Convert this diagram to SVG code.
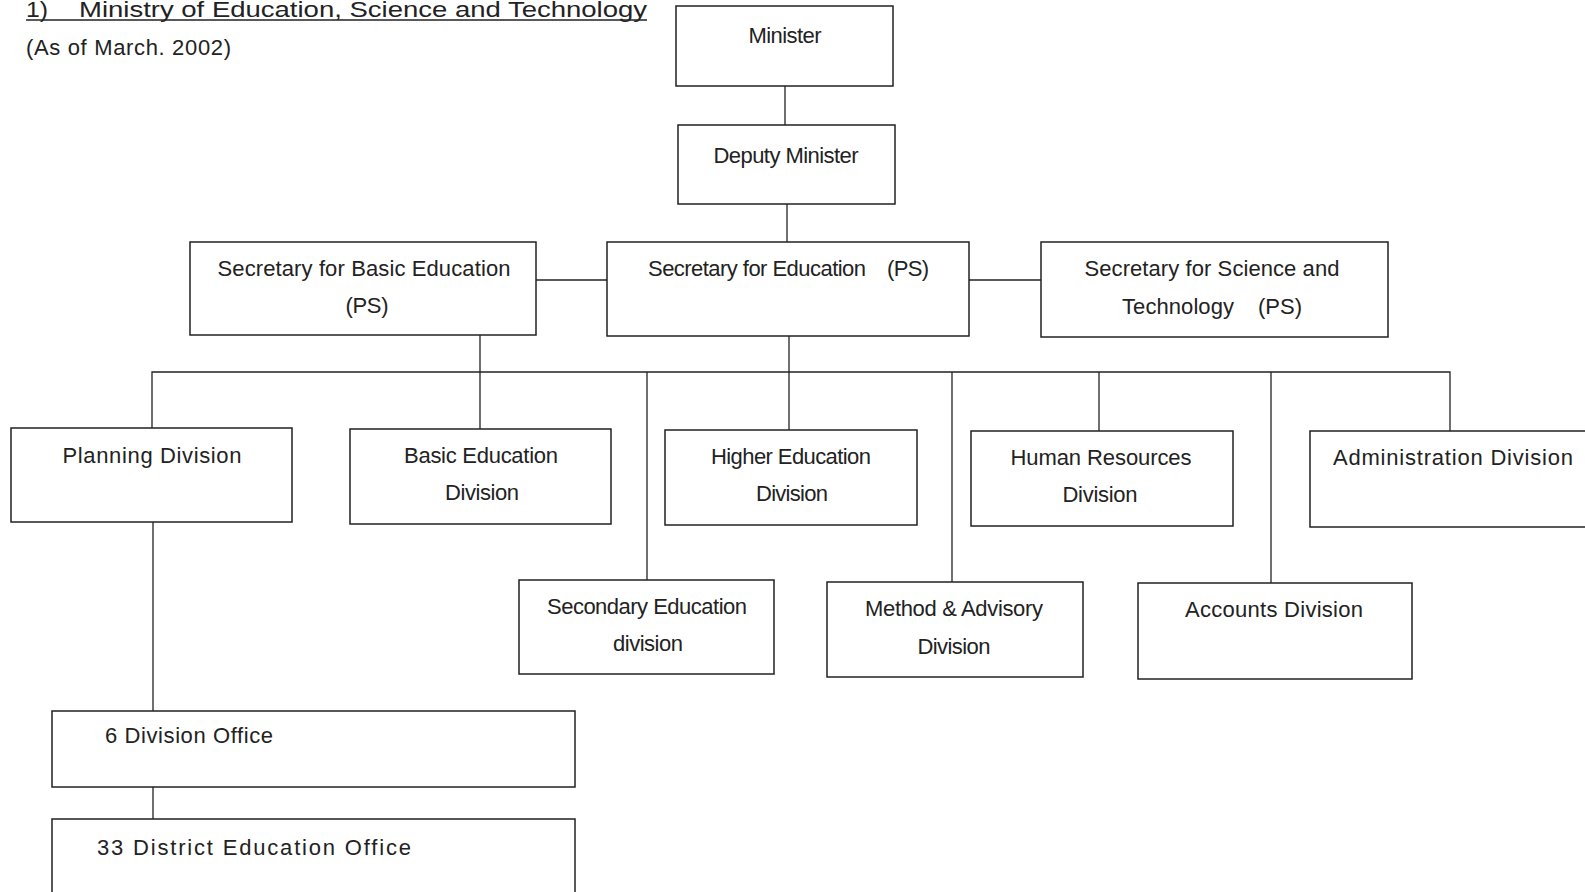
<svg xmlns="http://www.w3.org/2000/svg" width="1585" height="892" viewBox="0 0 1585 892">
<style>
.box{fill:#fff;stroke:#222;stroke-width:1.5}
.t{font-family:"Liberation Sans",Arial,sans-serif;font-size:22px;fill:#222}
.c{text-anchor:middle}
.ln{stroke:#222;stroke-width:1.3;fill:none}
</style>
<rect width="1585" height="892" fill="#fff"/>
<text class="t" x="26" y="17" font-size="27" textLength="22" lengthAdjust="spacingAndGlyphs">1)</text>
<text class="t" x="79" y="17" font-size="27" textLength="568" lengthAdjust="spacingAndGlyphs">Ministry of Education, Science and Technology</text>
<path class="ln" d="M26,20H647" stroke-width="1.5"/>
<text class="t" x="26" y="55" textLength="205" lengthAdjust="spacing">(As of March. 2002)</text>
<g id="connectors">
<path class="ln" d="M785,86V125"/>
<path class="ln" d="M787,204V242"/>
<path class="ln" d="M536,280H607"/>
<path class="ln" d="M969,280H1041" stroke-width="2"/>
<path class="ln" d="M480,335V372"/>
<path class="ln" d="M789,336V430"/>
<path class="ln" d="M152,428V372H1450V431"/>
<path class="ln" d="M480,372V429"/>
<path class="ln" d="M647,372V580"/>
<path class="ln" d="M952,372V582"/>
<path class="ln" d="M1099,372V431"/>
<path class="ln" d="M1271,372V583"/>
<path class="ln" d="M153,522V711"/>
<path class="ln" d="M153,787V819"/>
</g>
<g id="minister"><rect class="box" x="676" y="6" width="217" height="80"/><text class="t c" x="785" y="43" font-size="21" textLength="73" lengthAdjust="spacing">Minister</text></g>
<g id="deputy"><rect class="box" x="678" y="125" width="217" height="79"/><text class="t c" x="786" y="163" font-size="22" textLength="145" lengthAdjust="spacing">Deputy Minister</text></g>
<g id="sec-basic"><rect class="box" x="190" y="242" width="346" height="93"/><text class="t c" x="364" y="276" textLength="293" lengthAdjust="spacing">Secretary for Basic Education</text><text class="t c" x="367" y="313" textLength="43" lengthAdjust="spacing">(PS)</text></g>
<g id="sec-edu"><rect class="box" x="607" y="242" width="362" height="94"/><text class="t" x="648" y="276" textLength="218" lengthAdjust="spacing">Secretary for Education</text><text class="t" x="887" y="276" textLength="42" lengthAdjust="spacing">(PS)</text></g>
<g id="sec-sci"><rect class="box" x="1041" y="242" width="347" height="95"/><text class="t c" x="1212" y="276" textLength="255" lengthAdjust="spacing">Secretary for Science and</text><text class="t" x="1122" y="314" textLength="112" lengthAdjust="spacing">Technology</text><text class="t" x="1258" y="314" textLength="44" lengthAdjust="spacing">(PS)</text></g>
<g id="planning"><rect class="box" x="11" y="428" width="281" height="94"/><text class="t c" x="152" y="463" textLength="179" lengthAdjust="spacing">Planning Division</text></g>
<g id="basic-edu"><rect class="box" x="350" y="429" width="261" height="95"/><text class="t c" x="481" y="463" textLength="154" lengthAdjust="spacing">Basic Education</text><text class="t c" x="482" y="500" textLength="74" lengthAdjust="spacing">Division</text></g>
<g id="higher-edu"><rect class="box" x="665" y="430" width="252" height="95"/><text class="t c" x="791" y="464" textLength="160" lengthAdjust="spacing">Higher Education</text><text class="t c" x="792" y="501" textLength="72" lengthAdjust="spacing">Division</text></g>
<g id="hr"><rect class="box" x="971" y="431" width="262" height="95"/><text class="t c" x="1101" y="465" textLength="181" lengthAdjust="spacing">Human Resources</text><text class="t c" x="1100" y="502" textLength="75" lengthAdjust="spacing">Division</text></g>
<g id="admin"><rect class="box" x="1310" y="431" width="290" height="96"/><text class="t c" x="1453" y="465" textLength="240" lengthAdjust="spacing">Administration Division</text></g>
<g id="secondary"><rect class="box" x="519" y="580" width="255" height="94"/><text class="t c" x="647" y="614" textLength="200" lengthAdjust="spacing">Secondary Education</text><text class="t c" x="648" y="651" textLength="70" lengthAdjust="spacing">division</text></g>
<g id="method"><rect class="box" x="827" y="582" width="256" height="95"/><text class="t c" x="954" y="616" textLength="178" lengthAdjust="spacing">Method &amp; Advisory</text><text class="t c" x="954" y="654" textLength="73" lengthAdjust="spacing">Division</text></g>
<g id="accounts"><rect class="box" x="1138" y="583" width="274" height="96"/><text class="t c" x="1274" y="617" textLength="178" lengthAdjust="spacing">Accounts Division</text></g>
<g id="div-office"><rect class="box" x="52" y="711" width="523" height="76"/><text class="t" x="105" y="743" font-size="23" textLength="168" lengthAdjust="spacing">6 Division Office</text></g>
<g id="district"><rect class="box" x="52" y="819" width="523" height="80"/><text class="t" x="97" y="855" font-size="26" textLength="314" lengthAdjust="spacing">33 District Education Office</text></g>
</svg>
